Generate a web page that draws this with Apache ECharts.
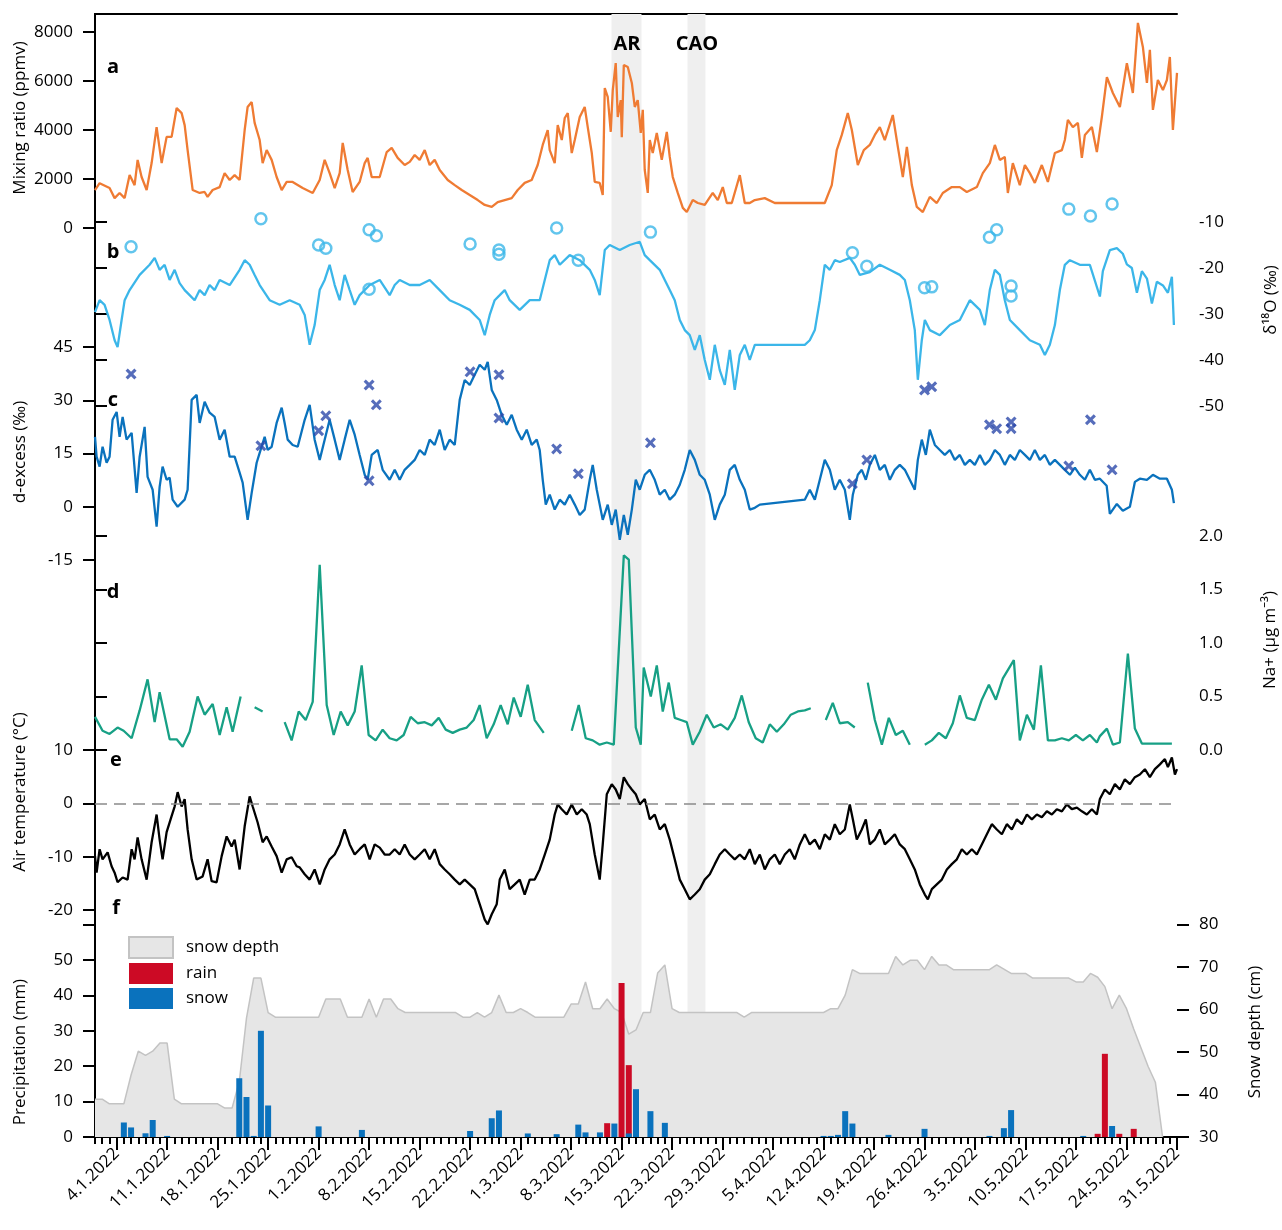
<!DOCTYPE html>
<html><head><meta charset="utf-8">
<script src="https://cdn.jsdelivr.net/npm/echarts@6/dist/echarts.min.js"></script>
<style>html,body{margin:0;padding:0;background:#fff}#c{width:1282px;height:1230px}</style>
</head><body><div id="c"></div>
<script>
// x values are days since 1.1.2022 00:00
const tickLabels = ['4.1.2022','11.1.2022','18.1.2022','25.1.2022','1.2.2022','8.2.2022','15.2.2022','22.2.2022','1.3.2022','8.3.2022','15.3.2022','22.3.2022','29.3.2022','5.4.2022','12.4.2022','19.4.2022','26.4.2022','3.5.2022','10.5.2022','17.5.2022','24.5.2022','31.5.2022'];
const events = [['AR', 71.6, 75.76], ['CAO', 82.14, 84.63]];

const mixingRatio = [[0,1550],[0.64,1830],[2.02,1630],[2.72,1220],[3.41,1430],[4.11,1220],[4.8,2160],[5.49,1750],[5.91,2780],[6.46,2080],[7.16,1550],[7.85,2650],[8.54,4120],[9.24,2650],[9.93,3720],[10.62,3720],[11.32,4900],[12.01,4690],[12.43,4200],[12.84,3180],[13.54,1550],[14.51,1430],[15.2,1470],[15.61,1270],[16.31,1550],[17.28,1670],[17.97,2240],[18.67,1960],[19.36,2160],[20.05,1960],[20.75,4000],[21.16,4940],[21.72,5140],[22.13,4290],[22.83,3590],[23.24,2650],[23.8,3180],[24.49,2780],[25.18,2080],[25.88,1550],[26.57,1880],[27.4,1880],[28.79,1630],[30.18,1430],[31.15,1960],[31.84,2780],[32.53,2240],[33.23,1630],[33.92,2240],[34.34,3470],[35.03,2370],[35.72,1470],[36.69,1880],[37.39,2650],[37.8,2860],[38.36,2080],[39.47,2080],[40.44,3100],[41.13,3270],[41.96,2860],[42.93,2570],[43.63,2700],[44.32,2980],[45.01,2780],[45.71,3180],[46.4,2570],[47.09,2780],[47.79,2370],[48.9,1960],[49.87,1750],[50.84,1550],[51.95,1350],[53.06,1140],[54.03,940],[55.0,860],[55.83,1060],[56.8,1140],[57.77,1220],[58.6,1550],[59.57,1840],[60.54,1960],[61.37,2570],[62.07,3390],[62.76,4000],[63.04,3180],[63.73,2650],[64.15,4200],[64.71,3590],[65.12,4490],[65.54,4690],[66.09,3060],[66.51,3590],[67.2,4530],[67.89,4940],[68.31,4120],[68.87,3060],[69.28,1880],[69.97,1840],[70.39,1350],[70.67,5710],[71.08,5350],[71.5,3920],[71.78,5630],[72.19,6730],[72.47,4530],[72.89,5220],[73.03,3710],[73.31,6650],[73.86,6570],[74.42,5920],[74.83,4940],[75.24,5220],[75.66,3880],[75.94,4820],[76.21,2370],[76.63,1430],[76.91,3590],[77.32,3060],[77.88,3880],[78.57,2780],[79.27,3920],[79.68,2900],[80.1,2080],[80.79,1430],[81.49,820],[82.04,650],[82.87,1140],[83.57,1020],[84.53,940],[85.64,1430],[86.34,1140],[87.03,1670],[87.59,1020],[88.28,1020],[89.39,2160],[90.08,1020],[90.77,1020],[91.47,1140],[92.85,1220],[94.24,1020],[96.32,1020],[99.09,1020],[101.17,1020],[102.14,1750],[102.83,3180],[103.53,3800],[104.36,4690],[104.92,4000],[105.75,2570],[106.58,3180],[107.41,3390],[108.11,3800],[108.8,4120],[109.49,3590],[110.6,4610],[111.3,3310],[111.99,2080],[112.55,3310],[113.24,1750],[113.93,860],[114.76,650],[115.73,1270],[116.7,1020],[117.53,1430],[118.78,1670],[119.89,1670],[120.86,1470],[122.25,1670],[123.08,2240],[124.05,2650],[124.75,3390],[125.44,2780],[126.13,2900],[126.55,1430],[127.24,2650],[128.21,1750],[128.91,2570],[129.6,2240],[130.29,1840],[131.26,2570],[132.1,1880],[133.07,3060],[134.04,3180],[134.45,3590],[134.87,4410],[135.56,4120],[136.26,4290],[136.81,2860],[137.23,3800],[138.2,4120],[138.89,3100],[139.58,4530],[140.28,6160],[141.11,5510],[142.08,4940],[143.05,6730],[143.88,5510],[144.58,8370],[145.27,7390],[145.83,5920],[146.24,7270],[146.66,4820],[147.35,6040],[148.05,5630],[148.6,6040],[149.01,6980],[149.43,4000],[150,6330]];

const d18O = [[0,-29.6],[0.64,-27],[1.33,-28],[2.02,-31.3],[2.72,-35.7],[3.13,-37.2],[3.69,-31.3],[4.11,-27],[4.8,-24.8],[6.19,-21.5],[7.57,-19.3],[8.27,-17.8],[8.96,-20.4],[9.65,-19.3],[10.35,-22.6],[11.04,-20.4],[11.73,-23.3],[12.43,-24.8],[13.12,-25.9],[13.81,-27],[14.51,-24.8],[15.2,-25.9],[15.89,-23.7],[16.59,-24.8],[17.28,-22.6],[18.67,-23.7],[20.05,-20.4],[20.75,-18.3],[21.44,-19.3],[22.13,-21.5],[22.83,-23.7],[24.21,-27],[25.6,-28],[26.99,-27],[28.37,-28],[29.07,-30.2],[29.76,-36.7],[30.45,-32.4],[31.15,-24.8],[31.84,-22.6],[32.53,-19.3],[33.23,-23.7],[33.92,-27],[34.61,-21.5],[35.31,-24.8],[36,-28],[36.69,-25.9],[38.08,-23.7],[39.47,-22.6],[40.85,-25.9],[41.55,-23.7],[42.24,-22.6],[43.63,-23.7],[45.01,-23.7],[46.4,-22.6],[47.79,-24.8],[49.17,-27],[50.56,-28],[51.95,-29.1],[53.33,-31.3],[54.03,-34.6],[54.72,-30.2],[55.41,-27],[56.11,-25.9],[56.8,-24.8],[57.49,-27],[58.88,-29.1],[60.27,-27],[61.65,-27],[62.35,-22.6],[63.04,-18.3],[63.73,-17.2],[64.43,-19.3],[65.81,-17.2],[67.2,-18.3],[68.59,-20.4],[69.28,-22.6],[69.97,-25.9],[70.67,-16.1],[71.36,-15],[72.75,-16.1],[74.13,-15],[75.52,-14.3],[76.21,-17.2],[76.91,-18.3],[78.29,-20.4],[78.99,-22.6],[79.68,-24.8],[80.37,-27],[81.07,-31.3],[81.76,-33.5],[82.45,-34.6],[83.15,-37.8],[83.84,-34.6],[84.53,-40],[85.23,-44.3],[85.92,-36.7],[86.61,-42.2],[87.31,-45.4],[88,-37.8],[88.69,-46.5],[89.39,-38.9],[90.08,-36.7],[90.77,-40],[91.47,-36.7],[98.4,-36.7],[99.09,-35.7],[99.79,-33.5],[100.48,-27],[101.17,-19.3],[101.87,-20.4],[102.56,-18.3],[103.25,-18.7],[104.64,-17.8],[105.33,-19.3],[106.03,-21.5],[107.41,-20.9],[108.8,-19.3],[110.19,-20.4],[111.57,-21.5],[112.27,-22.6],[112.96,-27],[113.65,-33.5],[114.07,-44.3],[114.62,-35.7],[115.04,-31.3],[115.73,-33.5],[117.12,-34.6],[118.51,-32.4],[119.89,-31.3],[121.28,-27],[122.67,-29.1],[123.36,-32.4],[124.05,-24.8],[124.75,-20.4],[125.44,-21.5],[126.13,-27],[126.83,-31.3],[128.21,-33.5],[129.6,-35.7],[130.99,-36.7],[131.68,-38.9],[132.37,-36.7],[133.07,-32.4],[133.76,-24.8],[134.45,-19.3],[135.15,-18.3],[136.53,-19.3],[137.92,-19.3],[139.31,-26.2],[139.72,-20.7],[140.69,-16.1],[141.66,-15.7],[142.49,-16.9],[143.05,-19.2],[143.74,-20.0],[144.44,-25.4],[145.13,-20.7],[145.83,-22.3],[146.52,-27.7],[147.21,-23.0],[148.05,-23.8],[148.74,-25.4],[149.29,-21.9],[149.57,-32.4]];

const d18OSnow = [[5,-15.4],[23,-9.3],[31,-15.0],[32,-15.7],[38,-11.7],[39,-13.0],[38,-24.6],[52,-14.8],[56,-16.1],[56,-17.0],[64,-11.3],[67,-18.3],[77,-12.2],[105,-16.7],[107,-19.6],[115,-24.3],[116,-24.1],[124,-13.3],[125,-11.7],[127,-23.9],[127,-26.1],[135,-7.2],[138,-8.7],[141,-6.1]];

const dExcess = [[0,19.7],[0.22,14.1],[0.64,11.3],[1.05,16.9],[1.61,12.4],[2.02,14.1],[2.44,24.5],[3.0,26.7],[3.41,19.7],[3.83,25.3],[4.38,18.9],[5.08,20.8],[5.77,3.9],[6.19,14.1],[6.88,22.5],[7.29,8.4],[7.99,4.8],[8.54,-5.6],[8.96,5.6],[9.37,11.3],[9.93,7.6],[10.35,8.2],[10.76,2.0],[11.46,0],[12.43,2.0],[12.84,4.8],[13.4,30.1],[14.09,31.5],[14.51,23.6],[15.2,29.6],[15.89,26.5],[16.59,25.3],[17.28,18.9],[17.97,21.7],[18.67,14.1],[19.36,14.1],[20.05,9.6],[20.47,6.8],[21.16,-3.7],[21.72,3.9],[22.41,12.4],[22.83,15.2],[23.52,19.7],[23.94,16.0],[24.49,16.9],[25.18,23.6],[25.88,27.9],[26.29,23.6],[26.71,18.9],[27.4,17.4],[28.1,16.9],[29.07,24.5],[29.76,28.7],[30.45,18.9],[31.15,13.2],[31.84,18.9],[32.53,24.5],[33.23,18.9],[33.92,13.2],[34.61,18.9],[35.31,24.5],[36,20.3],[36.69,14.6],[37.39,9.0],[37.8,7.6],[38.36,14.6],[39.19,16.0],[39.88,10.4],[40.85,7.6],[41.55,10.4],[42.24,7.6],[42.93,10.4],[43.63,11.8],[44.32,13.2],[45.01,16.0],[45.71,14.6],[46.4,18.9],[47.09,17.4],[47.79,21.7],[48.48,16.0],[49.17,18.9],[49.87,17.4],[50.56,30.1],[51.25,35.7],[51.95,34.3],[52.64,37.2],[53.33,40.0],[54.03,38.6],[54.44,40.8],[55.0,32.9],[55.69,30.1],[56.38,25.9],[57.08,23.1],[57.77,25.9],[58.46,21.7],[59.16,18.9],[59.85,21.7],[60.54,17.4],[61.24,18.9],[61.65,16.0],[62.07,7.6],[62.49,0.6],[63.04,3.4],[63.73,-0.8],[64.43,2.0],[65.12,0.6],[65.81,3.4],[66.51,0.6],[67.2,-2.3],[67.89,-0.8],[68.59,7.6],[69.0,11.8],[69.56,4.8],[69.97,0.6],[70.39,-3.7],[71.08,0.6],[71.64,-5.1],[72.19,-0.8],[72.75,-9.3],[73.31,-2.3],[73.86,-7.9],[74.42,-0.8],[74.97,7.6],[75.52,4.8],[76.21,9.0],[76.91,10.4],[77.6,7.6],[78.29,3.4],[78.99,4.8],[79.68,2.0],[80.37,3.4],[81.07,6.2],[81.76,10.4],[82.45,16.0],[83.15,13.2],[83.84,9.0],[84.53,7.6],[85.23,3.4],[85.92,-3.7],[86.61,0.6],[87.31,3.4],[88.0,10.4],[88.69,11.8],[89.39,7.6],[90.08,4.8],[90.77,-0.8],[91.47,-0.3],[92.16,0.6],[98.4,2.0],[99.09,4.8],[99.79,2.0],[100.48,7.6],[101.17,13.2],[101.87,10.4],[102.56,4.8],[103.25,7.6],[103.95,4.8],[104.64,-3.7],[105.06,3.4],[105.75,9.0],[106.3,10.4],[106.86,7.6],[107.41,11.8],[108.11,14.6],[108.8,10.4],[109.49,11.8],[110.19,7.6],[110.88,10.4],[111.57,11.8],[112.27,10.4],[112.96,7.6],[113.65,4.8],[114.07,13.2],[114.62,18.9],[115.18,14.6],[115.73,21.7],[116.43,17.4],[117.12,16.0],[117.81,14.6],[118.51,16.0],[119.2,13.2],[119.89,14.6],[120.59,11.8],[121.28,13.2],[121.97,11.8],[122.67,14.6],[123.36,11.8],[124.05,13.2],[124.75,16.0],[125.44,14.6],[126.13,11.8],[126.83,14.6],[127.52,13.2],[128.21,16.0],[128.91,14.6],[129.6,13.2],[130.29,16.0],[130.99,13.2],[131.68,14.6],[132.37,11.8],[133.07,13.2],[133.76,11.8],[134.45,10.4],[135.15,9.0],[135.84,11.0],[136.53,9.0],[137.23,7.6],[137.92,10.4],[138.61,7.6],[139.31,7.9],[140.25,5.9],[140.69,-2.0],[141.66,0.8],[142.49,-1.1],[143.47,0],[144.16,7.0],[144.85,7.9],[145.83,7.6],[146.66,9.0],[147.63,7.9],[148.6,7.9],[149.29,4.8],[149.57,1.0]];

const dExcessSnow = [[5,37.4],[23,17.2],[31,21.4],[32,25.6],[38,34.3],[39,28.7],[38,7.3],[52,38.0],[56,37.2],[56,25.0],[64,16.3],[67,9.3],[77,18.0],[105,6.5],[107,13.2],[115,32.9],[116,33.8],[124,23.1],[125,22.0],[127,23.9],[127,22.0],[135,11.5],[138,24.5],[141,10.4]];

const sodium = [[0,0.31],[1.05,0.18],[2.02,0.15],[3.13,0.21],[3.97,0.18],[5.08,0.11],[6.19,0.37],[7.29,0.66],[8.27,0.26],[8.96,0.54],[10.35,0.10],[11.32,0.10],[12.15,0.03],[13.12,0.17],[14.23,0.50],[15.2,0.33],[16.31,0.43],[17.28,0.14],[18.25,0.40],[19.08,0.17],[20.19,0.50],[21.2,null],[22.13,0.40],[23.24,0.36],[24.7,null],[26.29,0.26],[27.26,0.09],[28.24,0.36],[29.21,0.28],[30.18,0.45],[31.15,1.73],[32.12,0.42],[33.09,0.14],[34.06,0.36],[35.03,0.23],[36,0.36],[36.97,0.79],[37.94,0.14],[38.91,0.09],[39.88,0.19],[40.85,0.11],[41.82,0.09],[42.79,0.14],[43.76,0.31],[44.74,0.25],[45.71,0.26],[46.68,0.23],[47.65,0.30],[48.62,0.19],[49.59,0.16],[50.56,0.19],[51.53,0.21],[52.5,0.28],[53.33,0.42],[54.3,0.11],[55.27,0.24],[56.24,0.42],[57.21,0.24],[58.05,0.49],[59.02,0.31],[59.99,0.61],[60.96,0.28],[62.21,0.16],[64,null],[66.09,0.18],[67.06,0.42],[68.03,0.11],[69.0,0.09],[69.97,0.05],[70.95,0.07],[71.92,0.05],[73.31,1.82],[74.0,1.78],[74.97,0.21],[75.66,0.05],[76.07,0.77],[77.05,0.50],[77.88,0.79],[78.71,0.36],[79.54,0.63],[80.37,0.30],[81.21,0.28],[82.04,0.26],[82.87,0.05],[83.84,0.17],[84.81,0.33],[85.78,0.21],[86.75,0.24],[87.72,0.19],[88.69,0.30],[89.66,0.51],[90.63,0.26],[91.6,0.11],[92.57,0.07],[93.55,0.24],[94.52,0.17],[95.49,0.24],[96.46,0.33],[97.43,0.36],[98.4,0.37],[99.23,0.39],[100.3,null],[101.31,0.28],[102.28,0.44],[103.25,0.25],[104.36,0.26],[105.33,0.21],[106.2,null],[107.13,0.63],[108.11,0.28],[109.08,0.05],[110.05,0.30],[111.02,0.14],[111.99,0.18],[112.96,0.05],[114,null],[115.04,0.05],[116.01,0.09],[116.98,0.16],[117.95,0.11],[118.92,0.25],[119.89,0.51],[120.86,0.30],[121.97,0.28],[122.94,0.47],[123.92,0.61],[124.89,0.47],[125.86,0.67],[127.38,0.84],[128.21,0.09],[129.19,0.33],[130.16,0.19],[131.13,0.79],[132.1,0.09],[133.07,0.09],[134.04,0.11],[135.0,0.09],[135.98,0.14],[136.95,0.09],[137.92,0.14],[138.89,0.07],[139.31,0.13],[140.28,0.20],[141.11,0.05],[142.08,0.07],[143.19,0.90],[144.16,0.20],[145.13,0.06],[146.5,0.06],[147.9,0.06],[149.29,0.06]];

const airTemp = [[0,-9.9],[0.22,-13],[0.64,-8.6],[1.05,-10.5],[1.75,-9.2],[2.3,-11.8],[2.72,-13],[3.13,-14.8],[3.83,-13.9],[4.52,-14.3],[5.08,-8.6],[5.49,-10.5],[5.91,-6.4],[6.46,-10.5],[7.16,-14.3],[7.85,-7.3],[8.54,-2.1],[8.96,-6.8],[9.37,-10.5],[9.93,-5.4],[10.62,-2.4],[11.04,-0.6],[11.46,2.1],[12.01,-0.6],[12.43,0.8],[12.84,-4.9],[13.4,-10.5],[14.09,-14.3],[14.92,-13.7],[15.61,-10.5],[16.17,-14.6],[16.86,-14.8],[17.56,-9.9],[18.25,-6.2],[18.94,-8.1],[19.36,-6.8],[20.05,-12.4],[20.75,-4.3],[21.44,1.3],[21.86,-0.6],[22.55,-3.6],[23.24,-7.3],[23.8,-6.2],[24.49,-8.1],[25.18,-9.9],[25.88,-13],[26.57,-10.5],[27.26,-10.1],[27.96,-11.8],[28.37,-12],[29.07,-13.3],[29.76,-14.3],[30.45,-12.4],[31.15,-15.2],[31.84,-12.4],[32.53,-10.5],[33.23,-9.6],[33.92,-7.7],[34.61,-4.9],[35.31,-7.7],[36,-9.6],[36.69,-8.6],[37.39,-7.7],[38.08,-10.5],[38.77,-7.7],[39.47,-8.3],[40.16,-9.6],[40.85,-9.6],[41.55,-8.6],[42.24,-9.6],[42.93,-7.7],[43.63,-9.6],[44.32,-10.5],[45.01,-9.6],[45.71,-8.6],[46.4,-10.5],[47.09,-8.6],[47.79,-11.4],[48.48,-12.4],[49.17,-13.3],[49.87,-14.3],[50.56,-15.2],[51.25,-14.3],[51.95,-15.2],[52.64,-16.1],[53.33,-18.9],[54.03,-21.8],[54.44,-22.7],[55.0,-20.8],[55.69,-18.9],[56.11,-14.3],[56.8,-12.4],[57.49,-16.1],[58.19,-15.2],[58.88,-14.3],[59.57,-17.1],[60.27,-14.3],[60.96,-14.3],[61.65,-12.4],[62.35,-9.6],[63.04,-6.8],[63.73,-2.1],[64.15,-0.2],[64.71,-1.1],[65.4,-2.1],[66.09,-0.2],[66.79,-2.1],[67.48,-1.1],[68.17,-2.1],[68.59,-3.9],[69.28,-9.6],[69.97,-14.3],[70.39,-7.7],[70.95,1.7],[71.64,3.6],[72.19,2.6],[72.75,0.8],[73.31,4.9],[73.86,3.6],[74.42,2.6],[74.97,1.7],[75.52,-0.2],[76.21,0.8],[76.91,-3.0],[77.6,-2.1],[78.29,-4.9],[78.99,-3.9],[79.68,-6.8],[80.37,-10.5],[81.07,-14.3],[81.76,-16.1],[82.45,-18.0],[83.15,-17.1],[83.84,-16.1],[84.53,-14.3],[85.23,-13.3],[85.92,-11.4],[86.61,-9.6],[87.31,-8.6],[88,-9.6],[88.69,-10.5],[89.39,-9.6],[90.08,-10.5],[90.77,-8.6],[91.47,-11.4],[92.16,-9.6],[92.85,-12.4],[93.55,-10.5],[94.24,-9.6],[94.93,-11.4],[95.63,-9.6],[96.32,-8.6],[97.01,-10.5],[97.71,-7.7],[98.4,-5.8],[99.09,-7.7],[99.79,-6.8],[100.48,-8.6],[101.17,-5.8],[101.87,-6.8],[102.56,-3.9],[103.25,-5.8],[103.95,-4.9],[104.64,-0.2],[105.06,-3.0],[105.61,-6.8],[106.3,-4.9],[106.86,-3.0],[107.41,-7.7],[108.11,-6.8],[108.8,-4.9],[109.49,-7.7],[110.19,-6.8],[110.88,-5.8],[111.57,-7.7],[112.27,-8.6],[112.96,-10.5],[113.65,-12.4],[114.35,-15.2],[115.04,-17.1],[115.46,-18.0],[116.01,-16.1],[116.7,-15.2],[117.4,-14.3],[118.09,-12.4],[118.78,-11.4],[119.48,-10.5],[120.17,-8.6],[120.86,-9.6],[121.56,-8.6],[122.25,-9.6],[122.94,-7.7],[123.64,-5.8],[124.33,-3.9],[125.02,-4.9],[125.72,-5.8],[126.41,-3.9],[127.1,-4.9],[127.8,-3.0],[128.49,-3.9],[129.19,-2.1],[129.88,-3.0],[130.57,-2.1],[131.26,-2.6],[131.96,-1.5],[132.65,-2.1],[133.34,-1.1],[134.04,-1.5],[134.73,-0.2],[135.42,-1.1],[136.12,-0.8],[136.81,-1.5],[137.5,-2.1],[138.2,-1.1],[138.89,-2.1],[139.31,0.8],[140,2.6],[140.69,1.7],[141.39,3.6],[142.08,2.6],[142.77,4.5],[143.47,3.6],[144.16,4.9],[144.85,5.4],[145.55,6.4],[146.24,4.9],[146.93,6.4],[147.63,7.3],[148.32,8.3],[148.74,6.8],[149.29,8.6],[149.71,5.4],[150,6.4]];

// daily snow depth (cm), index = day
const snowDepth = [38.9,38.9,37.8,37.8,37.8,44.6,50.2,49.2,50.2,52.1,52.1,38.9,37.8,37.8,37.8,37.8,37.8,37.8,36.8,36.8,43,58,67.4,67.4,59.3,58.2,58.2,58.2,58.2,58.2,58.2,58.2,62.5,62.5,62.5,58.2,58.2,58.2,62.5,58.2,62.5,62.5,60.2,59.3,59.3,59.3,59.3,59.3,59.3,59.3,59.3,58.2,58.2,59.3,58.2,59.3,63.4,59.3,59.3,60.2,59.3,58.2,58.2,58.2,58.2,58.2,61.3,61.3,66.5,60.2,60.2,62.5,60.2,59.3,54.2,55.2,59.3,59.3,68.6,70.5,60.2,59.3,59.3,59.3,59.3,59.3,59.3,59.3,59.3,59.3,58.2,59.3,59.3,59.3,59.3,59.3,59.3,59.3,59.3,59.3,59.3,59.3,60.2,60.2,63.4,69.4,68.5,68.5,68.5,68.5,68.5,72.5,70.5,71.6,71.6,69.4,72.5,70.5,70.5,69.4,69.4,69.4,69.4,69.4,69.4,70.5,69.5,68.5,68.5,68.5,67.4,67.4,67.4,67.4,67.4,67.4,66.5,66.5,68.5,67.6,65.4,60.2,63.4,60.2,55.4,51.0,46.6,42.9,30];

const precipDays = [4,5,7,8,10,20,21,22,23,24,31,37,52,55,56,60,64,67,68,70,71,72,73,74,75,77,79,101,102,103,104,105,110,115,124,126,127,137,139,140,141,142,144];
const snowMM = [4.1,2.7,1.05,4.8,0.3,16.6,11.3,0.3,30,8.9,3.0,2.0,1.7,5.3,7.5,1.0,0.8,3.5,1.3,1.3,0,3.8,0,1.0,13.5,7.3,4.0,0.3,0.3,0.6,7.3,3.8,0.6,2.3,0.3,2.5,7.6,0.3,0,0,3.1,0,0];
const rainMM = [0,0,0,0,0,0,0,0,0,0,0,0,0,0,0,0,0,0,0,0,3.9,0,43.5,19.3,0,0,0,0,0,0,0,0,0,0,0,0,0,0,0.9,23.5,0,0.9,2.3];

const C = {mix:'#ef7b33', d18:'#3bb6e9', dex:'#0a72bd', cross:'#2c48aa', na:'#17a085', rain:'#cc0a25', snow:'#0a72bd'};
const FONT = '"Open Sans", "Noto Sans", sans-serif';

function labelDay(s){const p=s.split('.').map(Number);return (Date.UTC(p[2],p[1]-1,p[0])-Date.UTC(2022,0,1))/86400000;}
const majorDays = tickLabels.map(labelDay);
const labelMap = {}; tickLabels.forEach((s,i)=>labelMap[majorDays[i]]=s);
const minorDays = []; for(let d=0; d<=150; d++) minorDays.push(d);

const L=95, W=1082;
const grids = [
  {left:L,width:W,top:14,height:1123},     // 0 frame
  {left:L,width:W,top:32,height:196},      // 1 a
  {left:L,width:W,top:222,height:184},     // 2 b
  {left:L,width:W,top:347,height:213},     // 3 c
  {left:L,width:W,top:536,height:214},     // 4 d
  {left:L,width:W,top:750,height:160},     // 5 e
  {left:L,width:W,top:924.6,height:212.4}  // 6 f
].map(g=>Object.assign(g,{containLabel:false,outerBoundsMode:'none'}));

const lab = {color:'#000', fontSize:17, fontFamily:FONT};
function yAx(grid, pos, min, max, interval, extra){
  return Object.assign({type:'value', gridIndex:grid, position:pos, min, max, interval,
    axisLine:{show:false}, splitLine:{show:false},
    axisTick:{show:true, length:12, lineStyle:{color:'#000', width:2}},
    axisLabel:Object.assign({margin:22}, lab)}, extra||{});
}
const hiddenX = g => ({type:'value', gridIndex:g, min:0, max:150, show:false});

const xAxis = [
  {type:'value', gridIndex:0, position:'bottom', min:0, max:150, splitLine:{show:false},
   axisLine:{show:true, lineStyle:{color:'#000', width:2}},
   axisTick:{show:true, customValues:minorDays, length:7, lineStyle:{color:'#000', width:2}},
   axisLabel:{show:false}},
  {type:'value', gridIndex:0, position:'bottom', min:0, max:150, splitLine:{show:false},
   axisLine:{show:false},
   axisTick:{show:true, customValues:majorDays, length:13, lineStyle:{color:'#000', width:2}},
   axisLabel:Object.assign({customValues:majorDays, rotate:45, margin:14, formatter:v=>labelMap[v]||''}, lab, {fontSize:17})},
  {type:'value', gridIndex:0, position:'top', min:0, max:150, splitLine:{show:false},
   axisLine:{show:true, lineStyle:{color:'#000', width:2}}, axisTick:{show:false}, axisLabel:{show:false}},
  hiddenX(1), hiddenX(2), hiddenX(3), hiddenX(4), hiddenX(5), hiddenX(6)
];
const frameY = pos => ({type:'value', gridIndex:0, position:pos, min:0, max:1, splitLine:{show:false},
  axisLine:{show:true, lineStyle:{color:'#000', width:2}}, axisTick:{show:false}, axisLabel:{show:false}});
const yAxis = [
  frameY('left'), frameY('right'),
  yAx(1,'left',0,8000,2000,{axisLabel:Object.assign({margin:22, formatter:v=>String(v)}, lab)}),
  yAx(2,'right',-50,-10,10),
  yAx(3,'left',-15,45,15),
  yAx(4,'right',0,2,0.5,{axisLabel:Object.assign({margin:22, formatter:v=>v.toFixed(1)}, lab)}),
  yAx(5,'left',-20,10,10),
  yAx(6,'left',0,60,10,{axisLabel:Object.assign({margin:22, formatter:v=>v>=60?'':String(v)}, lab)}),
  yAx(6,'right',30,80,10)
];

const lineS = (name, data, xi, yi, color, extra) => Object.assign({name, type:'line', data, xAxisIndex:xi, yAxisIndex:yi,
  showSymbol:false, symbol:'none', clip:false, connectNulls:false, silent:true, z:3,
  lineStyle:{color, width:2.3}, itemStyle:{color}}, extra||{});

// rain is drawn on top of the day's snow (stacked): bar runs from 0 to snow+rain, snow drawn over it
const totalMM = precipDays.map((d,i)=>[d, +(snowMM[i]+rainMM[i]).toFixed(2)]).filter((p,i)=>rainMM[i]>0);
const snowBars = precipDays.map((d,i)=>[d, snowMM[i]]).filter(p=>p[1]>0);

const series = [
  {type:'line', xAxisIndex:0, yAxisIndex:0, data:[[0,0],[150,0]], symbol:'none', silent:true, z:1,
   lineStyle:{opacity:0},
   markArea:{silent:true, itemStyle:{color:'#efefef'}, data:events.map(e=>[{xAxis:e[1]},{xAxis:e[2]}])}},
  lineS('snow depth', snowDepth.map((v,i)=>[i,v]), 8, 8, '#c3c3c3', {z:2, lineStyle:{color:'#c3c3c3', width:1.5}, areaStyle:{color:'#e6e6e6', opacity:1}, itemStyle:{color:'#e6e6e6'}}),
  {name:'rain', type:'bar', data:totalMM, xAxisIndex:8, yAxisIndex:7, barWidth:6, barGap:'-100%', z:3, silent:true, itemStyle:{color:C.rain}},
  {name:'snow', type:'bar', data:snowBars, xAxisIndex:8, yAxisIndex:7, barWidth:6, barGap:'-100%', z:4, silent:true, itemStyle:{color:C.snow}},
  lineS('mix', mixingRatio, 3, 2, C.mix),
  lineS('d18O', d18O, 4, 3, C.d18),
  {type:'scatter', data:d18OSnow, xAxisIndex:4, yAxisIndex:3, symbol:'circle', symbolSize:11, clip:false, silent:true, z:5,
   itemStyle:{color:'rgba(255,255,255,0)', borderColor:C.d18, borderWidth:2.5}},
  lineS('dex', dExcess, 5, 4, C.dex),
  {type:'scatter', data:dExcessSnow, xAxisIndex:5, yAxisIndex:4, clip:false, silent:true, z:5,
   symbol:'path://M2,0L5,3L8,0L10,2L7,5L10,8L8,10L5,7L2,10L0,8L3,5L0,2Z', symbolSize:11, itemStyle:{color:C.cross}},
  lineS('na', sodium, 6, 5, C.na),
  lineS('temp', airTemp, 7, 6, '#000', {markLine:{silent:true, symbol:'none', label:{show:false},
    lineStyle:{color:'#8a8a8a', type:[12,7], width:1.5}, data:[{yAxis:0}]}})
];

const txt = (t, x, y, font, rot) => ({type:'text', x, y, rotation:rot||0, silent:true, z:10,
  style:{text:t, font, fill:'#000', align:'center', verticalAlign:'middle'}});
const bold = 'bold 20px ' + FONT, reg = '17px ' + FONT, R = Math.PI/2;
const graphic = [
  txt('a',113,67,bold), txt('b',113,252,bold), txt('c',113,400,bold), txt('d',113,592,bold), txt('e',116,760,bold), txt('f',116,908,bold),
  txt('AR',627,44,bold), txt('CAO',697,44,bold),
  txt('Mixing ratio (ppmv)',20,118,reg,R), txt('d-excess (‰)',20,452,reg,R), txt('Air temperature (°C)',20,792,reg,R), txt('Precipitation (mm)',20,1052,reg,R),
  txt('δ¹⁸O (‰)',1271,300,reg,R), txt('Na+ (µg m⁻³)',1270,640,reg,R), txt('Snow depth (cm)',1255,1032,reg,R)
];

const chart = echarts.init(document.getElementById('c'), null, {renderer:'canvas'});
chart.setOption({
  animation:false, backgroundColor:'#fff', textStyle:{fontFamily:FONT},
  grid:grids, xAxis, yAxis, series, graphic,
  legend:{left:128, top:936, orient:'vertical', itemWidth:44, itemHeight:21, itemGap:4, padding:0, selectedMode:false,
    textStyle:{fontSize:17, fontFamily:FONT, color:'#000', padding:[0,0,0,8]},
    data:[{name:'snow depth', icon:'rect', itemStyle:{color:'#e6e6e6', borderColor:'#c3c3c3', borderWidth:2}},
          {name:'rain', icon:'rect', itemStyle:{color:C.rain, borderWidth:0}},
          {name:'snow', icon:'rect', itemStyle:{color:C.snow, borderWidth:0}}]}
});
</script></body></html>
